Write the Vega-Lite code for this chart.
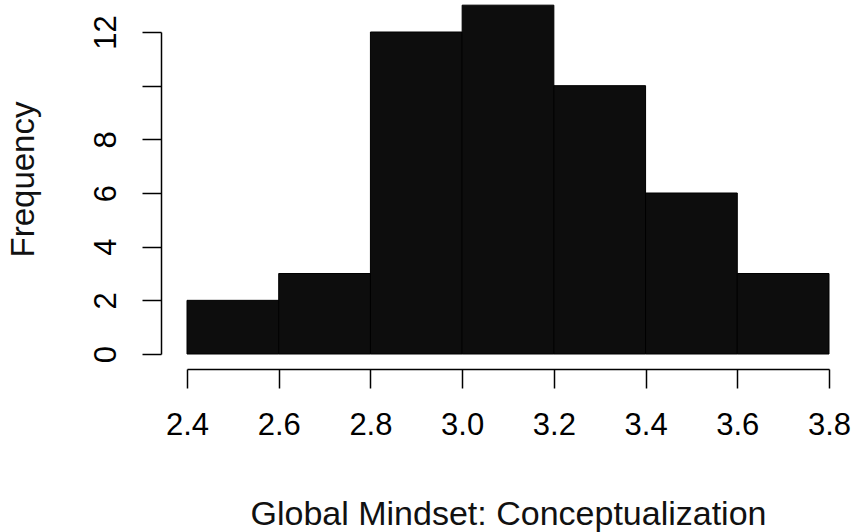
{
  "$schema": "https://vega.github.io/schema/vega-lite/v6.json",
  "width": 642,
  "height": 322,
  "autosize": "none",
  "padding": {"left": 187, "top": 32, "right": 28, "bottom": 178},
  "background": "white",
  "config": {"view": {"stroke": null}, "font": "Liberation Sans"},
  "data": {"values": [
    {"start": 2.4, "end": 2.6, "count": 2},
    {"start": 2.6, "end": 2.8, "count": 3},
    {"start": 2.8, "end": 3.0, "count": 12},
    {"start": 3.0, "end": 3.2, "count": 13},
    {"start": 3.2, "end": 3.4, "count": 10},
    {"start": 3.4, "end": 3.6, "count": 6},
    {"start": 3.6, "end": 3.8, "count": 3}
  ]},
  "mark": {"type": "rect", "fill": "#0d0d0d", "stroke": "#000000", "strokeWidth": 1, "clip": false},
  "encoding": {
    "x": {"field": "start", "type": "quantitative",
      "scale": {"domain": [2.4, 3.8], "nice": false, "zero": false},
      "axis": {"title": "Global Mindset: Conceptualization", "values": [2.4, 2.6, 2.8, 3.0, 3.2, 3.4, 3.6, 3.8],
        "format": ".1f", "offset": 15, "tickSize": 19, "tickColor": "#000", "domainColor": "#000", "tickWidth": 1.5, "domainWidth": 1.5,
        "labelFontSize": 31, "labelColor": "#000", "labelPadding": 22, "labelFlush": false, "labelOverlap": false, "grid": false,
        "titleFontSize": 34, "titleFontWeight": "normal", "titleColor": "#111", "titlePadding": 57}},
    "x2": {"field": "end"},
    "y": {"field": "count", "type": "quantitative",
      "scale": {"domain": [0, 12], "nice": false},
      "axis": {"title": "Frequency", "values": [0, 2, 4, 6, 8, 10, 12],
        "labelExpr": "datum.value == 10 ? '' : datum.label",
        "offset": 26, "tickSize": 19, "tickColor": "#000", "domainColor": "#000", "tickWidth": 1.5, "domainWidth": 1.5,
        "labelAngle": -90, "labelAlign": "center", "labelBaseline": "bottom", "labelFlush": false, "labelOverlap": false,
        "labelFontSize": 31, "labelColor": "#000", "labelPadding": 20, "grid": false,
        "titleFontSize": 33, "titleFontWeight": "normal", "titleColor": "#111", "titlePadding": 50, "titleY": 147}},
    "y2": {"datum": 0}
  }
}
